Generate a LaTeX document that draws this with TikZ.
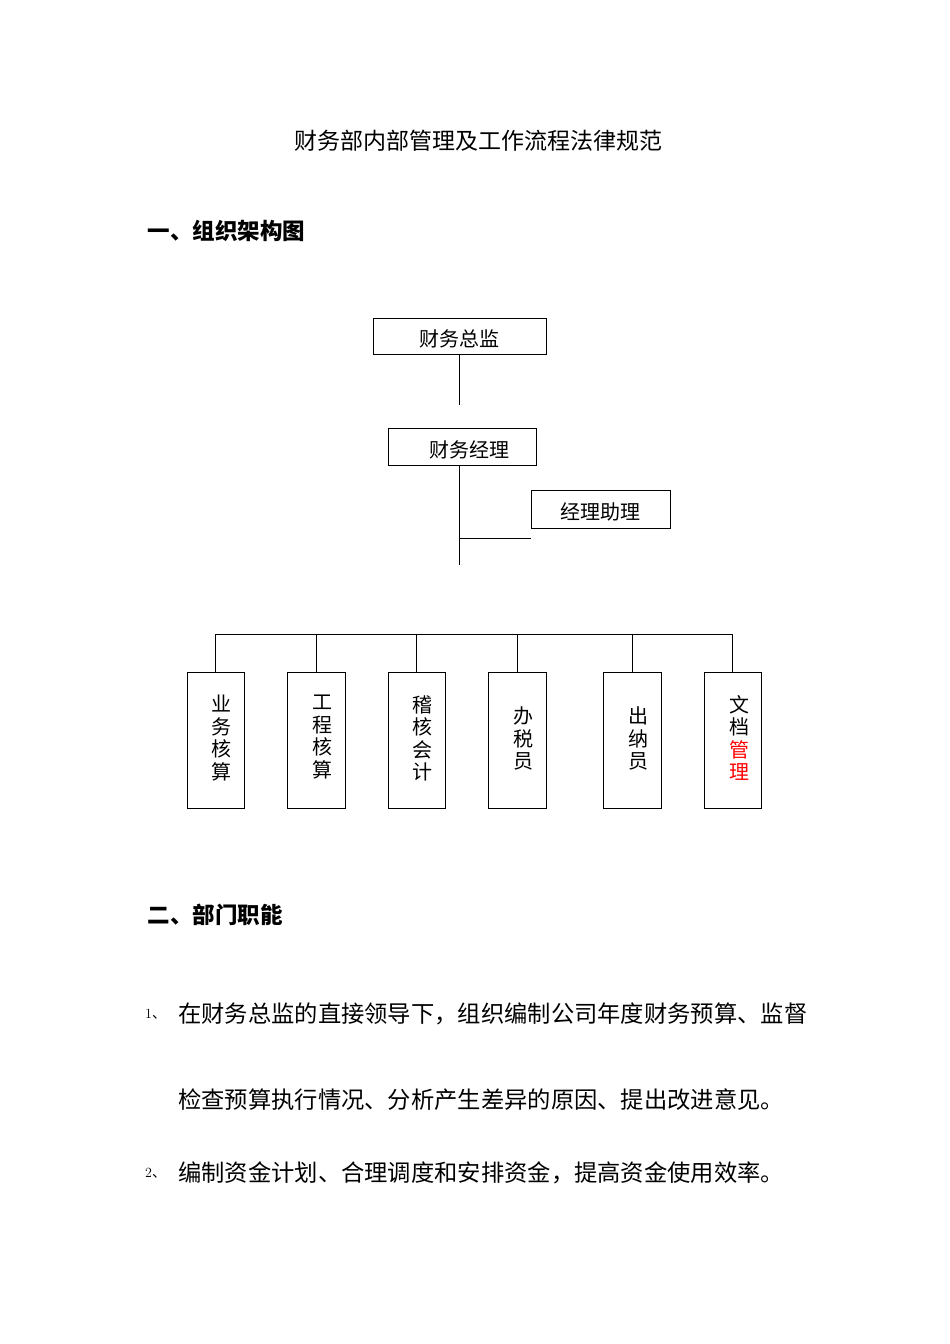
\documentclass[tikz,border=0pt]{standalone}
\usepackage{fontspec}
\newfontfamily\cjk{Noto Sans CJK SC}
\begin{document}
\begin{tikzpicture}[x=1pt,y=-1pt,
  bx/.style={draw,line width=0.9pt,inner sep=0pt},
  ln/.style={line width=0.9pt},
  t/.style={font=\cjk\fontsize{20}{24}\selectfont,inner sep=0pt},
  vt/.style={font=\cjk\fontsize{20}{22.5}\selectfont,inner sep=0pt,align=center,anchor=north},
  body/.style={font=\cjk\fontsize{23.3}{26}\selectfont,inner sep=0pt,anchor=west}]
\useasboundingbox (0,0) rectangle (950,1344);
\node[font=\cjk\fontsize{23}{26}\selectfont] (title) at (478,141) {财务部内部管理及工作流程法律规范};
\node[font=\cjk\bfseries\fontsize{22.5}{26}\selectfont,anchor=west] (h1) at (144,231) {一、组织架构图};
% boxes
\node[bx,minimum width=173,minimum height=36] (zj) at (459.5,336) {};
\node[t] at (459.5,339) {财务总监};
\node[bx,minimum width=148,minimum height=37] (jl) at (462,446.5) {};
\node[t] at (469,450) {财务经理};
\node[bx,minimum width=139,minimum height=38] (zl) at (600.5,509) {};
\node[t] at (600,512) {经理助理};
\coordinate (a1) at (459,405);
\coordinate (a2) at (459,565);
\coordinate (a3) at (459,538);
\draw[ln] (459,354) -- (a1);
\draw[ln] (459,465) -- (a2);
\draw[ln] (a3) -- (zl.west |- a3);
\coordinate (busL) at (215,634);
\coordinate (busR) at (732,634);
\draw[ln] (busL) -- (busR);
\foreach \n/\x/\w/\txt/\ty in {b1/215.5/57/业\\务\\核\\算/695, b2/316/58/工\\程\\核\\算/695, b3/416.5/57/稽\\核\\会\\计/695, b4/517/58/办\\税\\员/707, b5/632/58/出\\纳\\员/707}{
  \node[bx,minimum width=\w,minimum height=136,anchor=north] (\n) at (\x,672) {};
  \draw[ln] (\n.north) -- (\n.north |- busL);
  \node[vt] at (\x+6,\ty) {\txt};
}
\node[bx,minimum width=57,minimum height=136,anchor=north] (b6) at (732.5,672) {};
\draw[ln] (b6.north) -- (b6.north |- busL);
\node[vt] at (739,695) {文\\档\\\textcolor{red}{管}\\\textcolor{red}{理}};
\node[font=\cjk\bfseries\fontsize{22.5}{26}\selectfont,anchor=west] (h2) at (144,915) {二、部门职能};
\node[font=\fontsize{14}{16}\selectfont,anchor=west,inner sep=0pt] (n1) at (145,1014) {1{\cjk 、}};
\node[body] (p1) at (178,1014) {在财务总监的直接领导下，组织编制公司年度财务预算、监督};
\node[body] (p2) at (178,1100) {检查预算执行情况、分析产生差异的原因、提出改进意见。};
\node[font=\fontsize{14}{16}\selectfont,anchor=west,inner sep=0pt] (n2) at (145,1173) {2{\cjk 、}};
\node[body] (p3) at (178,1173) {编制资金计划、合理调度和安排资金，提高资金使用效率。};
\end{tikzpicture}
\end{document}
